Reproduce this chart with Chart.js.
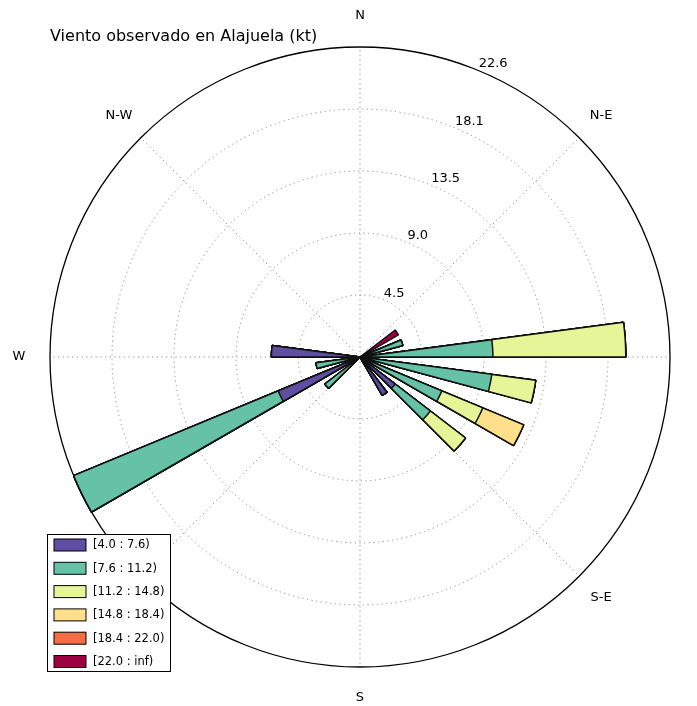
<!DOCTYPE html>
<html>
<head>
<meta charset="utf-8">
<script src="https://cdn.jsdelivr.net/npm/chart.js@4"></script>
<style>
  html, body { margin: 0; padding: 0; background: #fff; }
  #wrap { width: 697px; height: 706px; }
</style>
</head>
<body>
<div id="wrap"><canvas id="rose"></canvas></div>
<script>
// Compass direction (deg, clockwise from N) where each bar starts
const directions = [52.5, 67.5, 82.5, 97.5, 112.5, 127.5, 142.5, 225, 240, 255, 270];

// Frequency (%) of each speed bin for every direction above
const bin1 = [0, 0, 0, 0, 0, 3.23, 3.23, 0, 6.45, 0, 6.45];
const bin2 = [0, 3.23, 9.68, 9.68, 6.45, 3.23, 0, 3.23, 16.13, 3.23, 0];
const bin3 = [0, 0, 9.68, 3.23, 3.23, 3.23, 0, 0, 0, 0, 0];
const bin4 = [0, 0, 0, 0, 3.23, 0, 0, 0, 0, 0, 0];
const bin5 = [0, 0, 0, 0, 0, 0, 0, 0, 0, 0, 0];
const bin6 = [3.23, 0, 0, 0, 0, 0, 0, 0, 0, 0, 0];

const binLabels = ['[4.0 : 7.6)', '[7.6 : 11.2)', '[11.2 : 14.8)', '[14.8 : 18.4)', '[18.4 : 22.0)', '[22.0 : inf)'];
const binColors = ['#5e4fa2', '#66c2a5', '#e6f598', '#fee08b', '#f46d43', '#9e0142'];
const compassLabels = ['N', 'N-E', 'E', 'S-E', 'S', 'S-W', 'W', 'N-W'];
const rMax = 22.58;
const sectorWidth = 7.5;

const bins = [bin1, bin2, bin3, bin4, bin5, bin6];
const nSlots = Math.round(360 / sectorWidth);

// stacked bars: each dataset holds the running total, lower bins drawn on top
const cumulative = bins.map((b, k) => {
  const arr = new Array(nSlots).fill(0);
  directions.forEach((d, j) => {
    let total = 0;
    for (let m = 0; m <= k; m++) total += bins[m][j];
    arr[Math.round(d / sectorWidth) % nSlots] = total;
  });
  return arr;
});

const FONT = '"DejaVu Sans", sans-serif';

const roseText = {
  id: 'roseText',
  afterDraw(chart) {
    const ctx = chart.ctx;
    const s = chart.scales.r;
    ctx.save();

    // radial tick labels along 22.5 deg
    ctx.fillStyle = '#000';
    ctx.font = '13px ' + FONT;
    ctx.textAlign = 'left';
    ctx.textBaseline = 'bottom';
    s.ticks.forEach((t, i) => {
      if (i === 0) return;
      const p = s.getPointPositionForValue(3, t.value);
      ctx.fillText(t.value.toFixed(1), p.x, p.y);
    });

    // compass labels
    ctx.textAlign = 'center';
    ctx.textBaseline = 'middle';
    compassLabels.forEach((lab, i) => {
      const p = s.getPointPosition(i * nSlots / 8, s.drawingArea * 1.1);
      ctx.fillText(lab, p.x, p.y);
    });

    // title
    ctx.font = '16px ' + FONT;
    ctx.textAlign = 'left';
    ctx.textBaseline = 'alphabetic';
    ctx.fillText('Viento observado en Alajuela (kt)', 50, 41);

    // legend box
    const lx = 47, ly = 534, lw = 123, lh = 137;
    ctx.fillStyle = '#fff';
    ctx.fillRect(lx, ly, lw, lh);
    ctx.strokeStyle = '#000';
    ctx.lineWidth = 1;
    ctx.strokeRect(lx + 0.5, ly + 0.5, lw, lh);
    ctx.font = '11.5px ' + FONT;
    ctx.textBaseline = 'middle';
    binLabels.forEach((lab, k) => {
      const y = ly + 5 + k * 23.3;
      ctx.fillStyle = binColors[k];
      ctx.fillRect(lx + 7, y, 32, 12);
      ctx.strokeStyle = '#000';
      ctx.strokeRect(lx + 7, y, 32, 12);
      ctx.fillStyle = '#000';
      ctx.fillText(lab, lx + 46, y + 6.5);
    });
    ctx.restore();
  }
};

new Chart(document.getElementById('rose'), {
  type: 'polarArea',
  data: {
    labels: new Array(nSlots).fill(''),
    datasets: bins.map((b, k) => ({
      label: binLabels[k],
      data: cumulative[k],
      backgroundColor: binColors[k],
      borderColor: '#111',
      borderWidth: c => (c.raw > 0 ? 1.5 : 0)
    }))
  },
  options: {
    responsive: true,
    maintainAspectRatio: false,
    animation: false,
    layout: { padding: { left: 50, right: 27, top: 47, bottom: 39 } },
    plugins: {
      legend: { display: false },
      title: { display: false },
      tooltip: { enabled: false }
    },
    scales: {
      r: {
        z: 1,
        min: 0,
        max: rMax,
        startAngle: 0,
        ticks: { display: false, count: 6 },
        pointLabels: { display: false },
        grid: {
          circular: true,
          color: c => (c.index === 5 ? '#000' : '#888'),
          lineWidth: c => (c.index === 5 ? 1.3 : 1)
        },
        border: { dash: c => (c.index === 5 ? [] : [1.2, 3.5]) },
        angleLines: {
          display: true,
          color: c => (c.index % (nSlots / 8) === 0 ? '#888' : 'rgba(0,0,0,0)'),
          lineWidth: 1,
          borderDash: [1.2, 3.5]
        }
      }
    }
  },
  plugins: [roseText]
});
</script>
</body>
</html>
